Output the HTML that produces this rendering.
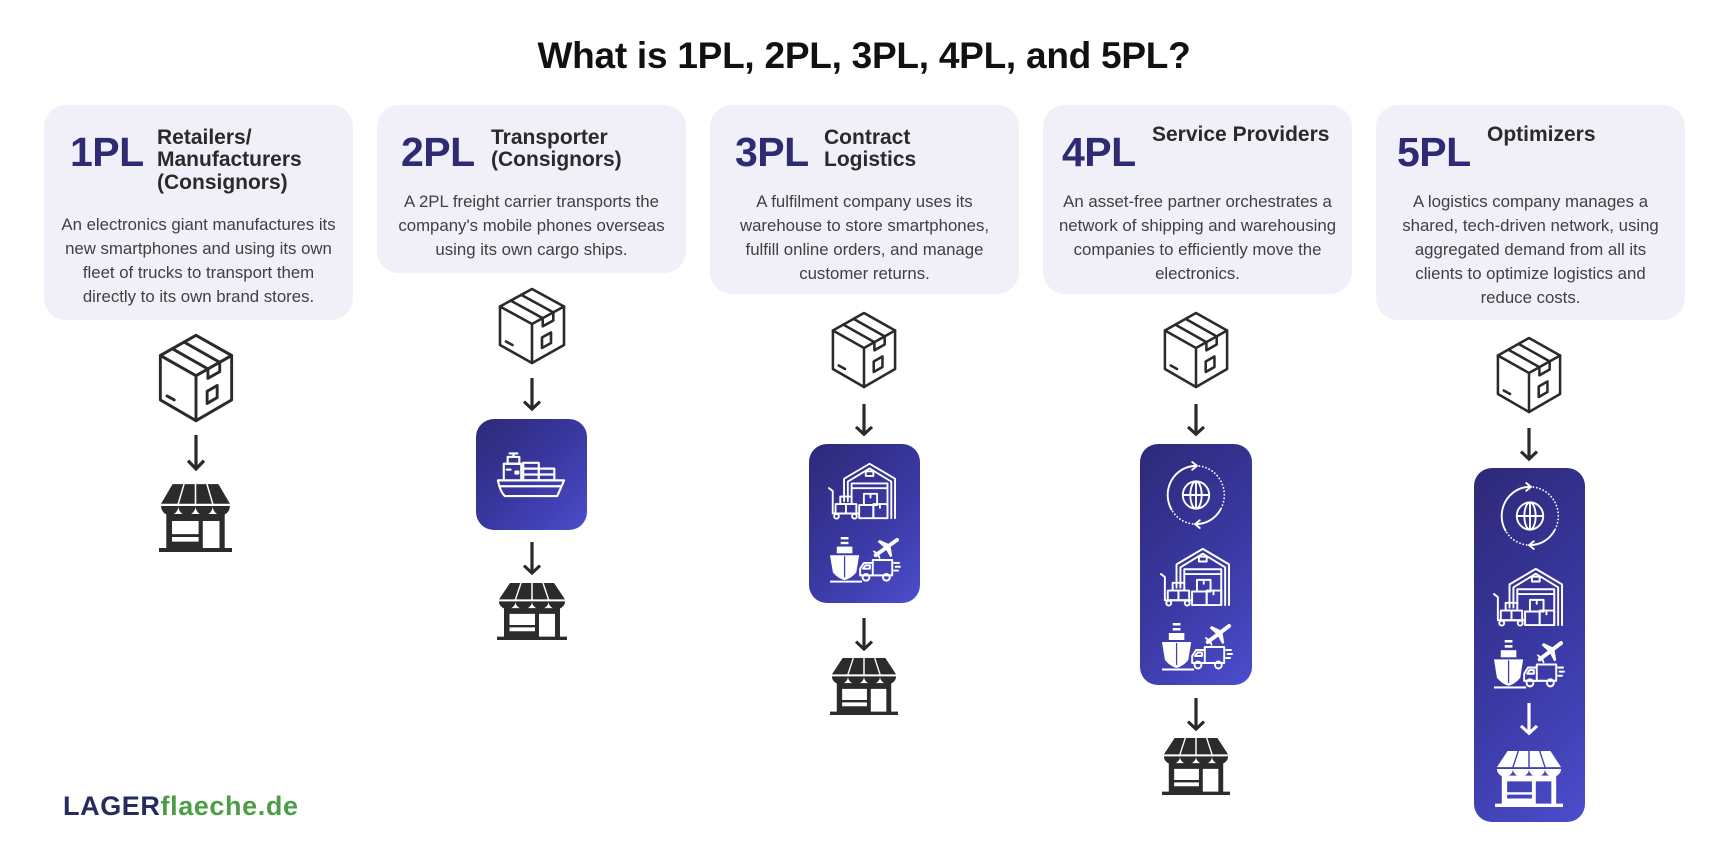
<!DOCTYPE html>
<html><head><meta charset="utf-8">
<style>
*{margin:0;padding:0;box-sizing:border-box}
html,body{width:1728px;height:864px;background:#fff;overflow:hidden;position:relative;font-family:"Liberation Sans",Arial,sans-serif}
.title{position:absolute;left:0;width:1728px;top:37px;text-align:center;font-weight:700;font-size:37px;line-height:37px;color:#111;letter-spacing:-0.25px;white-space:nowrap}
.card{position:absolute;top:105px;width:309px;background:#f1f0f8;border-radius:22px}
.num{position:absolute;font-weight:700;font-size:41px;line-height:41px;color:#2e2a73;top:132px;letter-spacing:-0.5px;white-space:nowrap}
.sub{position:absolute;font-weight:700;font-size:21px;line-height:22.5px;color:#2a2a2a;top:126.5px;white-space:nowrap}
.desc{position:absolute;width:309px;text-align:center;font-size:16.8px;line-height:24px;color:#404040;white-space:nowrap}
.grad{position:absolute;border-radius:18px;background:linear-gradient(135deg,#2d2978 0%,#3a39a3 55%,#4c4dcd 100%)}
svg.i{position:absolute;overflow:visible}
.logo{position:absolute;left:63px;top:793px;font-weight:700;font-size:27px;line-height:27px;letter-spacing:0.6px;white-space:nowrap}
</style></head>
<body>
<svg width="0" height="0" style="position:absolute">
<defs>
<g id="box" fill="none" stroke="currentColor" stroke-width="2.6" stroke-linejoin="round" stroke-linecap="round">
  <path d="M35 2 L67 19.5 L67 58 L35 76 L3 58 L3 19.5 Z"/>
  <path d="M3 19.5 L35 37 L67 19.5 M35 37 V76"/>
  <path d="M24.3 7.9 L56.3 25.4 V33.5 L45.7 39.3 V31.1 L13.7 13.6"/>
  <path d="M45 50.5 L54 45.5 V56 L45 61 Z"/>
  <path d="M9 54.5 L15.5 58"/>
</g>
<g id="store" fill="currentColor">
  <path d="M13 1 H23.25 L17.75 18 H2 Z M24.75 1 H34.25 L34.25 18 H19.25 Z M35.75 1 H45.25 L50.75 18 H35.75 Z M46.75 1 H57 L68 18 H52.25 Z"/>
  <path d="M2 20 H68 A8.25 8 0 0 1 51.5 20 A8.25 8 0 0 1 35 20 A8.25 8 0 0 1 18.5 20 A8.25 8 0 0 1 2 20 Z"/>
  <path fill-rule="evenodd" d="M7 27 H63 V57 H7 Z M12.5 33 H38 V44.5 H12.5 Z M12.5 47 H38 V51 H12.5 Z M42 33 H58 V57 H42 Z"/>
  <path d="M0 56.5 H70 V60 H0 Z"/>
</g>
<g id="arr" fill="none" stroke="currentColor" stroke-width="3.2">
  <path d="M11 0 V33"/>
  <path d="M3 25 L11 33 L19 25"/>
</g>
<g id="ship" fill="none" stroke="#fff" stroke-width="2.2" stroke-linejoin="round" stroke-linecap="round">
  <path d="M14 1.5 H22 M18 1.5 V5"/>
  <rect x="12" y="5" width="12" height="7"/>
  <path d="M8 29 V12 H26 V29"/>
  <path d="M11 18 H15"/>
  <rect x="28" y="11" width="16" height="18"/>
  <path d="M28 17 H44 M28 23 H44"/>
  <rect x="44" y="17" width="16" height="12"/>
  <path d="M44 23 H60"/>
  <path d="M2 29 H70 L63 45 H9 Q4 40 2 29 Z"/>
  <path d="M5 35 H67"/>
  <rect x="20" y="20" width="3" height="2" fill="#fff"/>
</g>
<g id="wh" fill="none" stroke="#fff" stroke-width="2" stroke-linejoin="round" stroke-linecap="round">
  <path d="M17 44 V20 L44 4 L71 20 V62"/>
  <path d="M21 44 V23 L44 9 L67 23 V62"/>
  <rect x="40" y="12" width="8" height="5"/>
  <path d="M25 40 V25 H63 V62"/>
  <path d="M25 30 H63"/>
  <rect x="38" y="36" width="14" height="12"/>
  <path d="M45 36 V40"/>
  <rect x="48" y="47" width="15" height="15"/>
  <path d="M55 47 V51"/>
  <rect x="33" y="48" width="15" height="14"/>
  <path d="M1 30 L5 33 V57 H33"/>
  <circle cx="9" cy="60" r="2.5"/>
  <circle cx="28" cy="60" r="2.5"/>
  <rect x="8" y="47" width="22" height="10"/>
  <path d="M19 47 V57"/>
  <rect x="13" y="39" width="12" height="8"/>
</g>
<g id="tr">
  <g fill="#fff">
    <rect x="11" y="0" width="8" height="2.5"/>
    <rect x="11" y="5" width="8" height="2.5"/>
    <path d="M7 10 H23 V17 H7 Z"/>
    <path d="M0 19 H30 L27 37 Q22 43 15 45 Q8 43 3 37 Z"/>
    <rect x="0" y="45.5" width="33" height="2"/>
    <path d="M62 8 L51 3 L49 5 L57 12 Z"/>
    <path d="M62 8 L64 20 L62 21 L57 12 Z"/>
    <path d="M50 17 L45 14 L44 15 L48 19 Z"/>
    <path d="M50 17 L52 22 L51 23 L48 19 Z"/>
  </g>
  <path d="M47 19 L69 3" stroke="#fff" stroke-width="4" stroke-linecap="round"/>
  <path d="M15 20 V42" stroke="#3e3db3" stroke-width="1.3"/>
  <g fill="none" stroke="#fff" stroke-width="2" stroke-linejoin="round" stroke-linecap="round">
    <rect x="44" y="24" width="20" height="16"/>
    <path d="M44 40 H31 V33 L35 27 H44"/>
    <path d="M34 33 L36.5 29.5 H41 V33 Z"/>
    <circle cx="37" cy="42" r="3.5"/>
    <circle cx="58" cy="42" r="3.5"/>
    <path d="M66 27 H71 M67.5 31 H72 M66 35 H70"/>
  </g>
</g>
<g id="globe" fill="none" stroke="#fff" stroke-width="2" stroke-linecap="round">
  <circle cx="35" cy="35" r="14"/>
  <ellipse cx="35" cy="35" rx="6" ry="14"/>
  <path d="M21 35 H49 M35 21 V49"/>
  <path d="M9 50 A30 30 0 0 1 35 5"/>
  <path d="M31 1 L36 5 L31 9"/>
  <path d="M61 50 A30 30 0 0 1 35 65"/>
  <path d="M39 61 L34 65 L39 69"/>
  <path d="M35 5 A30 30 0 0 1 61 50 M35 65 A30 30 0 0 1 9 50" stroke-dasharray="0.1 3.5" stroke-width="1.8"/>
</g>
</defs>
</svg>

<div class="title">What is 1PL, 2PL, 3PL, 4PL, and 5PL?</div>

<!-- Cards -->
<div class="card" style="left:44px;height:215px"></div>
<div class="card" style="left:377px;height:168px"></div>
<div class="card" style="left:710px;height:189px"></div>
<div class="card" style="left:1043px;height:189px"></div>
<div class="card" style="left:1376px;height:215px"></div>

<div class="num" style="left:70px">1PL</div>
<div class="sub" style="left:157px">Retailers/<br>Manufacturers<br>(Consignors)</div>
<div class="desc" style="left:44px;top:213px">An electronics giant manufactures its<br>new smartphones and using its own<br>fleet of trucks to transport them<br>directly to its own brand stores.</div>

<div class="num" style="left:401px">2PL</div>
<div class="sub" style="left:491px">Transporter<br>(Consignors)</div>
<div class="desc" style="left:377px;top:190px">A 2PL freight carrier transports the<br>company's mobile phones overseas<br>using its own cargo ships.</div>

<div class="num" style="left:735px">3PL</div>
<div class="sub" style="left:824px">Contract<br>Logistics</div>
<div class="desc" style="left:710px;top:190px">A fulfilment company uses its<br>warehouse to store smartphones,<br>fulfill online orders, and manage<br>customer returns.</div>

<div class="num" style="left:1062px">4PL</div>
<div class="sub" style="left:1152px;top:124px">Service Providers</div>
<div class="desc" style="left:1043px;top:190px">An asset-free partner orchestrates a<br>network of shipping and warehousing<br>companies to efficiently move the<br>electronics.</div>

<div class="num" style="left:1397px">5PL</div>
<div class="sub" style="left:1487px;top:124px">Optimizers</div>
<div class="desc" style="left:1376px;top:190px">A logistics company manages a<br>shared, tech-driven network, using<br>aggregated demand from all its<br>clients to optimize logistics and<br>reduce costs.</div>

<!-- Column 1 -->
<svg class="i" style="left:157px;top:333px;width:78px;height:90px;color:#2a2a2a" viewBox="0 0 70 78" preserveAspectRatio="none"><use href="#box"/></svg>
<svg class="i" style="left:185px;top:435px;width:22px;height:37px;color:#2a2a2a" viewBox="0 0 22 36" preserveAspectRatio="none"><use href="#arr"/></svg>
<svg class="i" style="left:159px;top:483px;width:73px;height:69px;color:#2b2b2b" viewBox="0 0 70 60" preserveAspectRatio="none"><use href="#store"/></svg>

<!-- Column 2 -->
<svg class="i" style="left:497px;top:287px;width:70px;height:78px;color:#2a2a2a" viewBox="0 0 70 78" preserveAspectRatio="none"><use href="#box"/></svg>
<svg class="i" style="left:521px;top:378px;width:22px;height:34px;color:#2a2a2a" viewBox="0 0 22 36" preserveAspectRatio="none"><use href="#arr"/></svg>
<div class="grad" style="left:476px;top:419px;width:111px;height:111px"></div>
<svg class="i" style="left:496px;top:452px;width:70px;height:46px" viewBox="0 0 72 47" preserveAspectRatio="none"><use href="#ship"/></svg>
<svg class="i" style="left:521px;top:542px;width:22px;height:34px;color:#2a2a2a" viewBox="0 0 22 36" preserveAspectRatio="none"><use href="#arr"/></svg>
<svg class="i" style="left:497px;top:582px;width:70px;height:58px;color:#2b2b2b" viewBox="0 0 70 60" preserveAspectRatio="none"><use href="#store"/></svg>

<!-- Column 3 -->
<svg class="i" style="left:830px;top:311px;width:68px;height:78px;color:#2a2a2a" viewBox="0 0 70 78" preserveAspectRatio="none"><use href="#box"/></svg>
<svg class="i" style="left:853px;top:404px;width:22px;height:33px;color:#2a2a2a" viewBox="0 0 22 36" preserveAspectRatio="none"><use href="#arr"/></svg>
<div class="grad" style="left:809px;top:444px;width:111px;height:159px"></div>
<svg class="i" style="left:828px;top:460px;width:68px;height:60px" viewBox="0 0 72 64" preserveAspectRatio="none"><use href="#wh"/></svg>
<svg class="i" style="left:830px;top:537px;width:70px;height:47px" viewBox="0 0 72 49" preserveAspectRatio="none"><use href="#tr"/></svg>
<svg class="i" style="left:853px;top:618px;width:22px;height:34px;color:#2a2a2a" viewBox="0 0 22 36" preserveAspectRatio="none"><use href="#arr"/></svg>
<svg class="i" style="left:830px;top:657px;width:68px;height:58px;color:#2b2b2b" viewBox="0 0 70 60" preserveAspectRatio="none"><use href="#store"/></svg>

<!-- Column 4 -->
<svg class="i" style="left:1162px;top:311px;width:68px;height:78px;color:#2a2a2a" viewBox="0 0 70 78" preserveAspectRatio="none"><use href="#box"/></svg>
<svg class="i" style="left:1185px;top:404px;width:22px;height:33px;color:#2a2a2a" viewBox="0 0 22 36" preserveAspectRatio="none"><use href="#arr"/></svg>
<div class="grad" style="left:1140px;top:444px;width:112px;height:241px"></div>
<svg class="i" style="left:1163px;top:461px;width:66px;height:68px" viewBox="0 0 70 70" preserveAspectRatio="none"><use href="#globe"/></svg>
<svg class="i" style="left:1160px;top:545px;width:70px;height:62px" viewBox="0 0 72 64" preserveAspectRatio="none"><use href="#wh"/></svg>
<svg class="i" style="left:1162px;top:623px;width:70px;height:49px" viewBox="0 0 72 49" preserveAspectRatio="none"><use href="#tr"/></svg>
<svg class="i" style="left:1185px;top:698px;width:22px;height:34px;color:#2a2a2a" viewBox="0 0 22 36" preserveAspectRatio="none"><use href="#arr"/></svg>
<svg class="i" style="left:1162px;top:737px;width:68px;height:58px;color:#2b2b2b" viewBox="0 0 70 60" preserveAspectRatio="none"><use href="#store"/></svg>

<!-- Column 5 -->
<svg class="i" style="left:1495px;top:336px;width:68px;height:78px;color:#2a2a2a" viewBox="0 0 70 78" preserveAspectRatio="none"><use href="#box"/></svg>
<svg class="i" style="left:1518px;top:428px;width:22px;height:34px;color:#2a2a2a" viewBox="0 0 22 36" preserveAspectRatio="none"><use href="#arr"/></svg>
<div class="grad" style="left:1474px;top:468px;width:111px;height:354px"></div>
<svg class="i" style="left:1497px;top:482px;width:66px;height:68px" viewBox="0 0 70 70" preserveAspectRatio="none"><use href="#globe"/></svg>
<svg class="i" style="left:1493px;top:565px;width:70px;height:62px" viewBox="0 0 72 64" preserveAspectRatio="none"><use href="#wh"/></svg>
<svg class="i" style="left:1494px;top:640px;width:70px;height:50px" viewBox="0 0 72 49" preserveAspectRatio="none"><use href="#tr"/></svg>
<svg class="i" style="left:1518px;top:703px;width:22px;height:33px;color:#ffffff" viewBox="0 0 22 36" preserveAspectRatio="none"><use href="#arr"/></svg>
<svg class="i" style="left:1495px;top:750px;width:68px;height:57px;color:#ffffff" viewBox="0 0 70 60" preserveAspectRatio="none"><use href="#store"/></svg>

<div class="logo"><span style="color:#262b5e">LAGER</span><span style="color:#4c9e45">flaeche.de</span></div>
</body></html>
